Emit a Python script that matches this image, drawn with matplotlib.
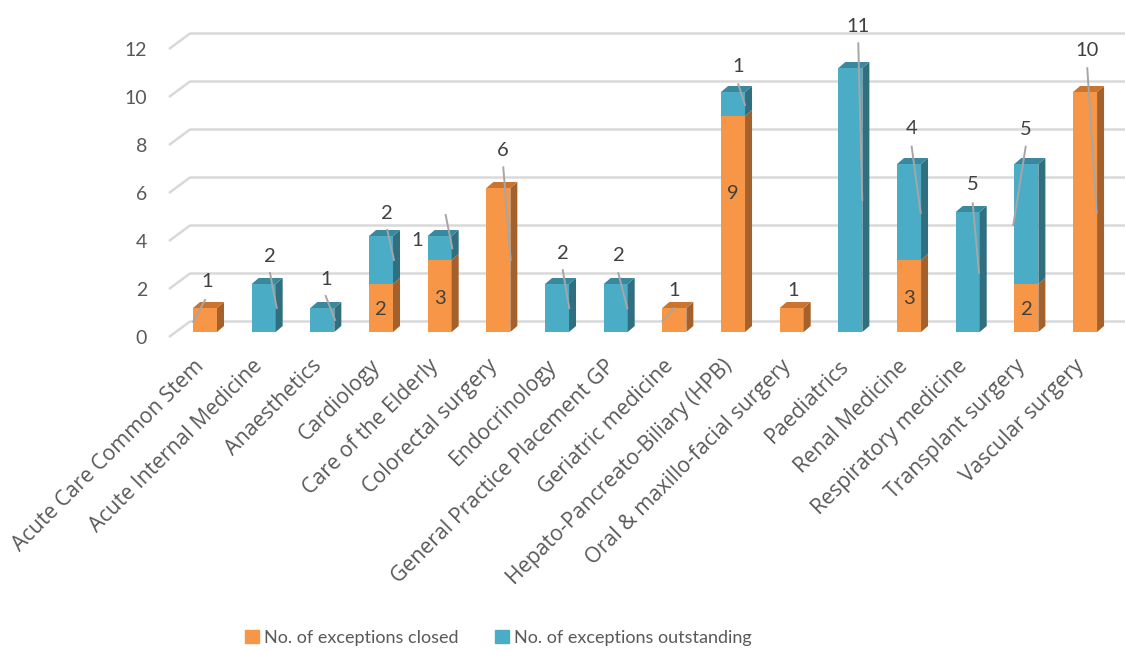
import matplotlib
matplotlib.use("Agg")
import matplotlib.pyplot as plt
from matplotlib.patches import Polygon, Patch

# ---------------- data ----------------
categories = ["Acute Care Common Stem", "Acute Internal Medicine", "Anaesthetics",
              "Cardiology", "Care of the Elderly", "Colorectal surgery", "Endocrinology",
              "General Practice Placement GP", "Geriatric medicine",
              "Hepato-Pancreato-Biliary (HPB)", "Oral & maxillo-facial surgery",
              "Paediatrics", "Renal Medicine", "Respiratory medicine",
              "Transplant surgery", "Vascular surgery"]
closed = [1, 0, 0, 2, 3, 6, 0, 0, 1, 9, 1, 0, 3, 0, 2, 10]
outstanding = [0, 2, 1, 2, 1, 0, 2, 2, 0, 1, 0, 11, 4, 5, 5, 0]
series_names = ["No. of exceptions closed", "No. of exceptions outstanding"]
yticks = [0, 2, 4, 6, 8, 10, 12]

# ---------------- layout (pixels / styling) ----------------
W, H = 1125, 650
PX, PY = 58.67, 24.0          # pixels per category / per unit
X0, Y0 = 205.0, 332.0         # pixel of first category centre / value 0 (front)
BAR_W = 24 / PX
DX, DY = 7 / PX, 6 / PY       # bar depth
GRID_UP = 10.5 / PY           # back gridline offset
SLANT_X, SLANT_Y = 21 / PX, 15.5 / PY

# label positions (data coords) for outside labels, and leader lines
out_lab = [(0.03, 2.10), (1.11, 3.14), (2.06, 2.17), (3.10, 4.95), (3.61, 3.83),
           (5.08, 7.58), (6.10, 3.28), (7.05, 3.17), (8.00, 1.72), (9.09, 11.05),
           (10.02, 1.72), (11.135, 12.75), (12.045, 8.49), (13.08, 6.13),
           (13.99, 8.45), (15.04, 11.71)]
leader = [((0.0, 1.33), (-0.20, 0.43)), ((1.108, 2.46), (1.222, 1.0)),
          ((2.057, 1.5), (2.216, 0.5)), ((3.107, 4.25), (3.221, 3.0)),
          ((4.102, 4.875), (4.215, 3.49)), ((5.084, 6.86), (5.21, 3.0)),
          ((6.097, 2.58), (6.209, 0.99)), ((7.045, 2.45), (7.198, 0.99)),
          ((8.0, 0.99), (7.80, 0.47)), ((9.09, 10.32), (9.204, 9.46)),
          None, ((11.135, 12.03), (11.203, 5.5)), ((12.045, 7.72), (12.198, 4.97)),
          ((13.085, 5.36), (13.192, 2.47)), ((13.988, 7.72), (13.777, 4.46)),
          ((15.038, 10.99), (15.198, 4.97))]
in_lab_y = {3: 0.92, 4: 1.40, 9: 5.78, 12: 1.40, 14: 0.95}

ORANGE = ("#F79646", "#A5612B", "#C9742F")   # front, side, top
BLUE = ("#4BACC6", "#306F7F", "#3A889D")
GRID = "#D9D9D9"
TXT = "#595959"
LAB = "#404040"

fig = plt.figure(figsize=(W / 100, H / 100), dpi=100)
ax = fig.add_axes([(X0 - 0.5 * PX) / W, (H - Y0) / H, 16 * PX / W, 13 * PY / H])
ax.set_xlim(-0.5, 15.5)
ax.set_ylim(0, 13)
ax.axis("off")

# gridlines (3D floor/back wall style)
x_back = -0.5 + (190 - (X0 - 0.5 * PX)) / PX
x_right = -0.5 + (W - (X0 - 0.5 * PX)) / PX
for v in yticks:
    yb = v + GRID_UP
    ax.plot([x_back - SLANT_X, x_back, x_right], [yb - SLANT_Y, yb, yb],
            color=GRID, lw=1.8, zorder=1, clip_on=False, solid_capstyle="butt")
    ax.text(x_back - SLANT_X - 22 / PX, yb - SLANT_Y - 2 / PY, str(v),
            ha="right", va="center", fontsize=14, color=TXT, family="Lato")


def draw_seg(x, b, t, cols, top=False):
    xl, xr = x - BAR_W / 2, x + BAR_W / 2
    ax.bar(x, t - b, bottom=b, width=BAR_W, color=cols[0], zorder=3, linewidth=0)
    ax.add_patch(Polygon([(xr, b), (xr + DX, b + DY), (xr + DX, t + DY), (xr, t)],
                         closed=True, color=cols[1], zorder=3, lw=0))
    if top:
        ax.add_patch(Polygon([(xl, t), (xr, t), (xr + DX, t + DY), (xl + DX, t + DY)],
                             closed=True, color=cols[2], zorder=3, lw=0))


for i in range(len(categories)):
    c, o = closed[i], outstanding[i]
    if c > 0:
        draw_seg(i, 0, c, ORANGE, top=(o == 0))
    if o > 0:
        draw_seg(i, c, c + o, BLUE, top=True)

# data labels
for i in range(len(categories)):
    c, o = closed[i], outstanding[i]
    val = o if o > 0 else c
    lx, ly = out_lab[i]
    ax.text(lx, ly, str(val), ha="center", va="center", fontsize=14.5, color=LAB,
            family="Lato", zorder=6, clip_on=False)
    if leader[i] is not None:
        (x1, y1), (x2, y2) = leader[i]
        ax.plot([x1, x2], [y1, y2], color="#A6A6A6", lw=1.4, zorder=5, clip_on=False)
    if c > 0 and o > 0:
        ax.text(i, in_lab_y[i], str(c), ha="center", va="center", fontsize=14.5,
                color=LAB, family="Lato", zorder=6)

# category labels
ax.set_xticks([])
for i, name in enumerate(categories):
    ax.text(i - 4 / PX, -31 / PY, name, rotation=45, rotation_mode="anchor",
            ha="right", va="center", fontsize=15.3, color=TXT,
            family=["Open Sans", "Lato", "DejaVu Sans"], clip_on=False)

# legend
handles = [Patch(color=ORANGE[0]), Patch(color=BLUE[0])]
fig.legend(handles, series_names, loc="center", bbox_to_anchor=(498.5 / W, (H - 638) / H),
           ncol=2, frameon=False, prop={"family": "Lato", "size": 13},
           handlelength=0.75, handleheight=0.75, handletextpad=0.3,
           columnspacing=2.0, labelcolor=TXT, borderpad=0)

fig.savefig("out.png", dpi=100)
